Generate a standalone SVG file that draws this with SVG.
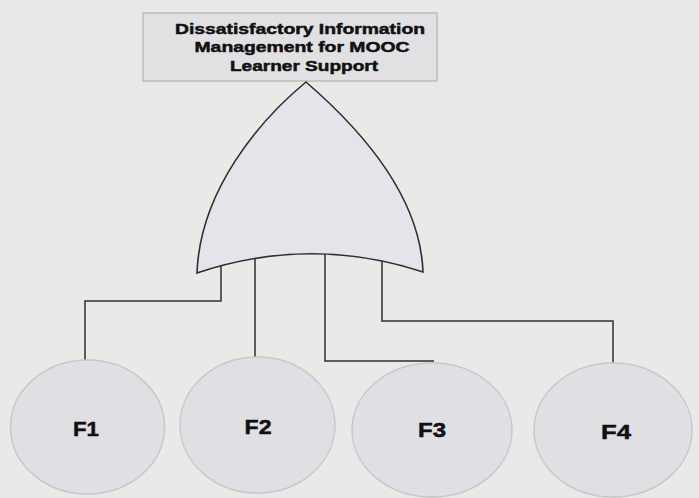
<svg xmlns="http://www.w3.org/2000/svg" width="699" height="498" viewBox="0 0 699 498">
<style>
.bg{fill:#e9e9e7}
.title{fill:#e1e1e3;stroke:#bcbcbe;stroke-width:1.5}
.gate{fill:#e3e5ea;stroke:#2e2e30;stroke-width:1.6;stroke-linejoin:miter}
.leaf{fill:#e0e0e4;stroke:#c8c8ca;stroke-width:1.5}
.wire{fill:none;stroke:#2e2e30;stroke-width:1.5}
.t{font-family:"Liberation Sans",Arial,sans-serif;font-weight:bold;fill:#111;stroke:#111;stroke-width:0.5;text-anchor:middle}
.tt{font-size:15px}
.ft{font-size:20px}
</style>
<rect class="bg" x="0" y="0" width="699" height="498"/>
<g id="top-event">
<rect class="title" x="143" y="13" width="294" height="68"/>
<text class="t tt" x="300" y="33.5" textLength="250" lengthAdjust="spacingAndGlyphs">Dissatisfactory Information</text>
<text class="t tt" x="302" y="52" textLength="215" lengthAdjust="spacingAndGlyphs">Management for MOOC</text>
<text class="t tt" x="304" y="70.5" textLength="148" lengthAdjust="spacingAndGlyphs">Learner Support</text>
</g>
<g id="or-gate">
<path class="gate" d="M306,82 C260,120 200,190 197,273 Q310,235 423,272 C420,190 350,120 306,82 Z"/>
</g>
<g id="connectors">
<polyline class="wire" points="221,266 221,301 85,301 85,360"/>
<polyline class="wire" points="255,258 255,358"/>
<polyline class="wire" points="325,254 325,361 434,361"/>
<polyline class="wire" points="382,261 382,321 613,321 613,363"/>
</g>
<g id="F1">
<ellipse class="leaf" cx="87.5" cy="427" rx="77" ry="67"/>
<text class="t ft" x="86" y="435.5" textLength="26" lengthAdjust="spacingAndGlyphs">F1</text>
</g>
<g id="F2">
<ellipse class="leaf" cx="257.5" cy="425" rx="77.5" ry="68"/>
<text class="t ft" x="258" y="434" textLength="27" lengthAdjust="spacingAndGlyphs">F2</text>
</g>
<g id="F3">
<ellipse class="leaf" cx="432" cy="430" rx="80" ry="67"/>
<text class="t ft" x="432" y="437" textLength="28" lengthAdjust="spacingAndGlyphs">F3</text>
</g>
<g id="F4">
<ellipse class="leaf" cx="613" cy="430" rx="79" ry="67"/>
<text class="t ft" x="616" y="439" textLength="30" lengthAdjust="spacingAndGlyphs">F4</text>
</g>
</svg>
